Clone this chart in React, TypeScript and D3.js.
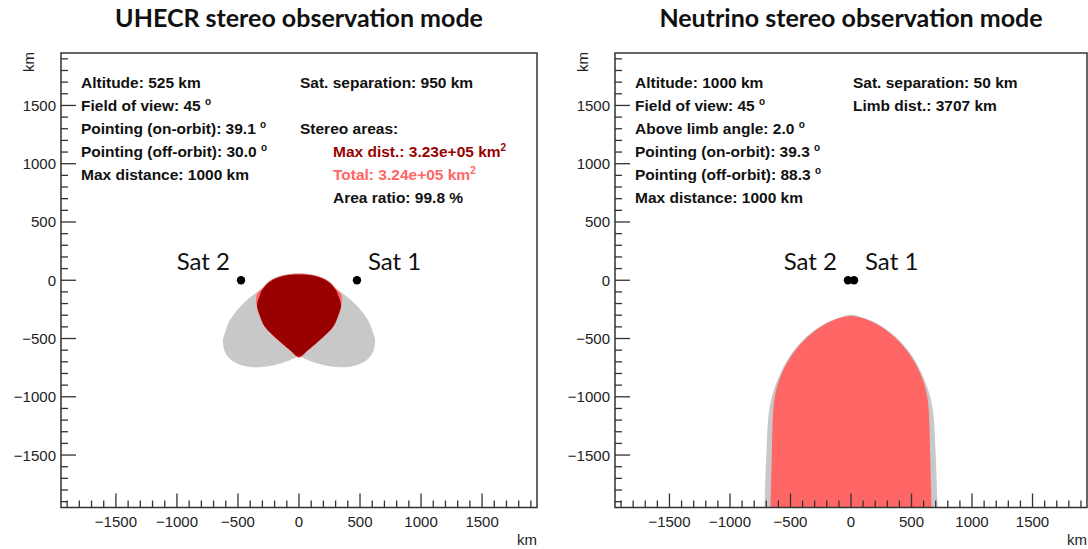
import React from 'react';
import * as d3 from 'd3';

type Pt = [number, number];

// axes (km)
const axisDomain: [number, number] = [-1950, 1950];
const labelTicks = [-1500, -1000, -500, 0, 500, 1000, 1500];

// UHECR stereo mode
const uhecrInfo = [
  'Altitude: 525 km',
  'Field of view: 45 °',
  'Pointing (on-orbit): 39.1 °',
  'Pointing (off-orbit): 30.0 °',
  'Max distance: 1000 km',
];
const uhecrStereo = [
  'Sat. separation: 950 km',
  '',
  'Stereo areas:',
  'Max dist.: 3.23e+05 km²',
  'Total: 3.24e+05 km²',
  'Area ratio: 99.8 %',
];
const uhecrSats = [
  { name: 'Sat 1', x: 475, y: 0 },
  { name: 'Sat 2', x: -475, y: 0 },
];
// footprint outlines, km
const uhecrFootprint: Pt[] = [
  [0, 60], [132, 45], [245, -5], [312, -78], [358, -112], [443, -187], [525, -281], [577, -365],
  [607, -453], [623, -513], [615, -590], [582, -656], [516, -710], [418, -742], [311, -745],
  [197, -727], [90, -693], [0, -656], [-90, -693], [-197, -727], [-311, -745], [-418, -742],
  [-516, -710], [-582, -656], [-615, -590], [-623, -513], [-607, -453], [-577, -365], [-525, -281],
  [-443, -187], [-358, -112], [-312, -78], [-245, -5], [-132, 45],
];
const uhecrTotal: Pt[] = [
  [0, 56], [131, 41], [242, -8], [306, -78], [346, -122], [348, -212], [325, -301], [281, -401],
  [172, -515], [76, -602], [0, -664], [-76, -602], [-172, -515], [-281, -401], [-325, -301],
  [-348, -212], [-346, -122], [-306, -78], [-242, -8], [-131, 41],
];
const uhecrMaxDist: Pt[] = [
  [0, 50], [129, 36], [238, -12], [300, -80], [320, -127], [344, -212], [322, -300], [279, -399],
  [170, -513], [74, -599], [0, -656], [-74, -599], [-170, -513], [-279, -399], [-322, -300],
  [-344, -212], [-320, -127], [-300, -80], [-238, -12], [-129, 36],
];

// Neutrino stereo mode
const nuInfo = [
  'Altitude: 1000 km',
  'Field of view: 45 °',
  'Above limb angle: 2.0 °',
  'Pointing (on-orbit): 39.3 °',
  'Pointing (off-orbit): 88.3 °',
  'Max distance: 1000 km',
];
const nuStereo = ['Sat. separation: 50 km', 'Limb dist.: 3707 km'];
const nuSats = [
  { name: 'Sat 1', x: 25, y: 0 },
  { name: 'Sat 2', x: -25, y: 0 },
];
const nuFootprint: Pt[] = [
  [0, -294], [106, -324], [175, -350], [250, -393], [332, -453], [405, -521], [476, -607],
  [541, -710], [600, -839], [653, -994], [682, -1165], [698, -1457], [715, -1946], [720, -2200],
  [724, -2500], [-724, -2500], [-720, -2200], [-715, -1946], [-698, -1457], [-682, -1165],
  [-653, -994], [-600, -839], [-541, -710], [-476, -607], [-405, -521], [-332, -453], [-250, -393],
  [-175, -350], [-106, -324],
];
const nuTotal: Pt[] = [
  [0, -307], [93, -324], [159, -350], [238, -393], [320, -453], [392, -521], [464, -607],
  [529, -710], [587, -839], [629, -994], [645, -1165], [653, -1457], [665, -1946], [668, -2200],
  [671, -2500], [-671, -2500], [-668, -2200], [-665, -1946], [-653, -1457], [-645, -1165],
  [-629, -994], [-587, -839], [-529, -710], [-464, -607], [-392, -521], [-320, -453], [-238, -393],
  [-159, -350], [-93, -324],
];

const GRAY = '#c8c8c8';
const DARK_RED = '#990000';
const LIGHT_RED = '#ff6666';
const FRAME_TOP = 53;
const FRAME_BOTTOM = 507.5;
const LINE_H = 23;

const labelFont = '"Liberation Sans", Arial, sans-serif';
const titleFont = 'Lato, "Open Sans", sans-serif';

// turns "°" and "²" into small raised glyphs like ROOT's #circ / ^{2}
function rich(s: string) {
  const m = s.match(/^(.*?)([°²])$/);
  if (!m) return s;
  const sup = m[2] === '°' ? 'o' : '2';
  return (
    <>
      {m[1]}
      <tspan dy={-6} fontSize={10}>{sup}</tspan>
    </>
  );
}

interface Shape { pts: Pt[]; fill: string }
interface PanelProps {
  id: string;
  left: number;
  right: number;
  title: string;
  info: string[];
  stereo: string[];
  stereoX: number;
  stereoIndent: number[];
  stereoColors: string[];
  sats: { name: string; x: number; y: number }[];
  shapes: Shape[];
}

function Panel({ id, left, right, title, info, stereo, stereoX, stereoIndent, stereoColors, sats, shapes }: PanelProps) {
  const x = d3.scaleLinear().domain(axisDomain).range([left, right]);
  const y = d3.scaleLinear().domain(axisDomain).range([FRAME_BOTTOM, FRAME_TOP]);
  const minor = x.ticks(39);
  const fmt = d3.format('d');
  const line = d3.line<Pt>().x(d => x(d[0])).y(d => y(d[1])).curve(d3.curveCatmullRomClosed.alpha(0.5));
  const textTop = 88;

  return (
    <g>
      <defs>
        <clipPath id={`clip-${id}`}>
          <rect x={left} y={FRAME_TOP} width={right - left} height={FRAME_BOTTOM - FRAME_TOP} />
        </clipPath>
      </defs>
      <text x={(left + right) / 2} y={27} textAnchor="middle" fontFamily={titleFont} fontWeight="bold" fontSize={25} fill="#111">
        {title}
      </text>

      {/* footprints */}
      <g clipPath={`url(#clip-${id})`}>
        {shapes.map((s, i) => (
          <path key={i} d={line(s.pts) ?? ''} fill={s.fill} />
        ))}
      </g>

      {/* satellites */}
      {sats.map(s => (
        <g key={s.name}>
          <circle cx={x(s.x)} cy={y(s.y)} r={4.2} fill="#000" />
          <text
            x={s.x > 0 ? x(s.x) + 11 : x(s.x) - 11}
            y={y(s.y) - 10}
            textAnchor={s.x > 0 ? 'start' : 'end'}
            fontFamily={titleFont}
            fontSize={24}
            fill="#111"
          >
            {s.name}
          </text>
        </g>
      ))}

      {/* frame */}
      <rect x={left} y={FRAME_TOP} width={right - left} height={FRAME_BOTTOM - FRAME_TOP} fill="none" stroke="#333" strokeWidth={1.5} />

      {/* x axis */}
      {minor.map(t => {
        const major = labelTicks.includes(t);
        return (
          <line key={`x${t}`} x1={x(t)} x2={x(t)} y1={FRAME_BOTTOM} y2={FRAME_BOTTOM - (major ? 14 : 7)} stroke="#333" strokeWidth={1.3} />
        );
      })}
      {labelTicks.map(t => (
        <text key={`xl${t}`} x={x(t)} y={527} textAnchor="middle" fontFamily={labelFont} fontSize={15} fill="#222">
          {fmt(t)}
        </text>
      ))}
      <text x={right} y={545} textAnchor="end" fontFamily={labelFont} fontSize={15} fill="#222">km</text>

      {/* y axis */}
      {minor.map(t => {
        const major = labelTicks.includes(t);
        return (
          <line key={`y${t}`} x1={left} x2={left + (major ? 15 : 7)} y1={y(t)} y2={y(t)} stroke="#333" strokeWidth={1.3} />
        );
      })}
      {labelTicks.map(t => (
        <text key={`yl${t}`} x={left - 5} y={y(t) + 5.5} textAnchor="end" fontFamily={labelFont} fontSize={15} fill="#222">
          {fmt(t)}
        </text>
      ))}
      <text transform={`translate(${left - 27},${FRAME_TOP - 1}) rotate(-90)`} textAnchor="end" fontFamily={labelFont} fontSize={15} fill="#222">
        km
      </text>

      {/* info text */}
      {info.map((s, i) => (
        <text key={`i${i}`} x={left + 20} y={textTop + i * LINE_H} fontFamily={labelFont} fontWeight="bold" fontSize={15.5} fill="#111">
          {rich(s)}
        </text>
      ))}
      {stereo.map((s, i) =>
        s ? (
          <text
            key={`s${i}`}
            x={left + stereoX + (stereoIndent[i] ? 33 : 0)}
            y={textTop + i * LINE_H}
            fontFamily={labelFont}
            fontWeight="bold"
            fontSize={15.5}
            fill={stereoColors[i] ?? '#111'}
          >
            {rich(s)}
          </text>
        ) : null
      )}
    </g>
  );
}

export default function App() {
  return (
    <svg width={1088} height={549} style={{ position: 'absolute', left: 0, top: 0, background: '#fff' }}>
      <rect width={1088} height={549} fill="#fff" />
      <Panel
        id="uhecr"
        left={61}
        right={537}
        title="UHECR stereo observation mode"
        info={uhecrInfo}
        stereo={uhecrStereo}
        stereoX={239}
        stereoIndent={[0, 0, 0, 1, 1, 1]}
        stereoColors={['#111', '#111', '#111', DARK_RED, LIGHT_RED, '#111']}
        sats={uhecrSats}
        shapes={[
          { pts: uhecrFootprint, fill: GRAY },
          { pts: uhecrTotal, fill: LIGHT_RED },
          { pts: uhecrMaxDist, fill: DARK_RED },
        ]}
      />
      <Panel
        id="nu"
        left={615}
        right={1087}
        title="Neutrino stereo observation mode"
        info={nuInfo}
        stereo={nuStereo}
        stereoX={238}
        stereoIndent={[0, 0]}
        stereoColors={['#111', '#111']}
        sats={nuSats}
        shapes={[
          { pts: nuFootprint, fill: GRAY },
          { pts: nuTotal, fill: LIGHT_RED },
        ]}
      />
    </svg>
  );
}
